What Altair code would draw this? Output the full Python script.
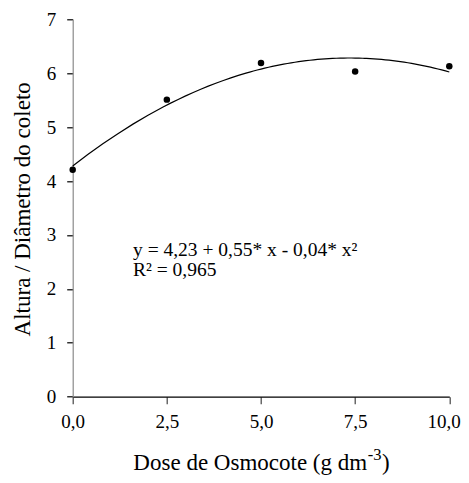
import altair as alt
import pandas as pd

# Data
dose = [0.0, 2.5, 5.0, 7.5, 10.0]
ratio = [4.21, 5.51, 6.19, 6.03, 6.13]
x_ticks = [0, 2.5, 5, 7.5, 10]
y_ticks = [0, 1, 2, 3, 4, 5, 6, 7]
eq_lines = ["y = 4,23 + 0,55* x - 0,04* x²", "R² = 0,965"]

df = pd.DataFrame({"x": dose, "y": ratio})

FONT = "Liberation Serif"
W, H = 376.6, 377.4
TICK_FS = 19
TITLE_FS = 23
EQ_FS = 19.5

xscale = alt.Scale(domain=[0, 10], nice=False, zero=False)
yscale = alt.Scale(domain=[0, 7], nice=False)

xaxis = alt.Axis(values=x_ticks, title=None,
                 labelExpr="replace(format(datum.value, '.1f'), '.', ',')",
                 labelAlign={"expr": "datum.value == 10 ? 'right' : 'center'"},
                 labelOffset={"expr": "datum.value == 10 ? 11 : 0"},
                 grid=False, domainColor="black", domainWidth=1.2,
                 tickColor="#444", tickSize=7, tickWidth=1.2,
                 labelFont=FONT, labelFontSize=TICK_FS, labelColor="black",
                 labelPadding=9, labelFlush=False)
yaxis = alt.Axis(values=y_ticks, format="d", title=None, grid=False,
                 domainColor="#8a8a8a", domainWidth=1.2,
                 tickColor="black", tickSize=6, tickWidth=1.2,
                 labelFont=FONT, labelFontSize=TICK_FS, labelColor="black",
                 labelPadding=11, labelFlush=False)

base = alt.Chart(df)

curve = base.transform_regression(
    "x", "y", method="poly", order=2, extent=[0, 10]
).mark_line(color="black", strokeWidth=1.2).encode(
    x=alt.X("x:Q", scale=xscale, axis=xaxis),
    y=alt.Y("y:Q", scale=yscale, axis=yaxis),
)

points = base.mark_circle(size=42, color="black", opacity=1).encode(
    x=alt.X("x:Q", scale=xscale, axis=xaxis),
    y=alt.Y("y:Q", scale=yscale, axis=yaxis),
)

eq1 = alt.Chart(pd.DataFrame({"t": [eq_lines[0]]})).mark_text(
    font=FONT, fontSize=EQ_FS, align="left", baseline="alphabetic", color="black"
).encode(text="t:N", x=alt.value(60.3), y=alt.value(236.5))

eq2 = alt.Chart(pd.DataFrame({"t": [eq_lines[1]]})).mark_text(
    font=FONT, fontSize=EQ_FS, align="left", baseline="alphabetic", color="black"
).encode(text="t:N", x=alt.value(60.3), y=alt.value(257.0))

# y-axis title
ytitle = alt.Chart(pd.DataFrame({"t": ["Altura / Diâmetro do coleto"]})).mark_text(
    font=FONT, fontSize=TITLE_FS, align="center", baseline="alphabetic",
    angle=270, color="black"
).encode(text="t:N", x=alt.value(-42.7), y=alt.value(190))

# x-axis title with superscript
main_w = 10.165 * TITLE_FS
sup_fs = TITLE_FS * 0.72
sup_w = 0.833 * sup_fs
par_w = 0.333 * TITLE_FS
total = main_w + sup_w + par_w
start = W / 2 - total / 2
main_end = start + main_w
xbase = 450.5

xt_main = alt.Chart(pd.DataFrame({"t": ["Dose de Osmocote (g dm"]})).mark_text(
    font=FONT, fontSize=TITLE_FS, align="right", baseline="alphabetic", color="black"
).encode(text="t:N", x=alt.value(main_end), y=alt.value(xbase))

xt_sup = alt.Chart(pd.DataFrame({"t": ["-3"]})).mark_text(
    font=FONT, fontSize=sup_fs, align="left", baseline="alphabetic", color="black"
).encode(text="t:N", x=alt.value(main_end + 0.5), y=alt.value(xbase - 9.5))

xt_par = alt.Chart(pd.DataFrame({"t": [")"]})).mark_text(
    font=FONT, fontSize=TITLE_FS, align="left", baseline="alphabetic", color="black"
).encode(text="t:N", x=alt.value(main_end + sup_w + 1), y=alt.value(xbase))

chart = alt.layer(curve, points, eq1, eq2, ytitle, xt_main, xt_sup, xt_par).properties(
    width=W, height=H,
    autosize=alt.AutoSizeParams(type="none"),
    padding={"left": 64.7, "top": 11.3, "right": 11.7, "bottom": 78.3},
    background="white",
).configure_view(stroke=None).configure_axis(
    labelFont=FONT, labelFontSize=TICK_FS, labelColor="black"
)

chart.save("out.html", embed_options={"renderer": "svg", "actions": False})
